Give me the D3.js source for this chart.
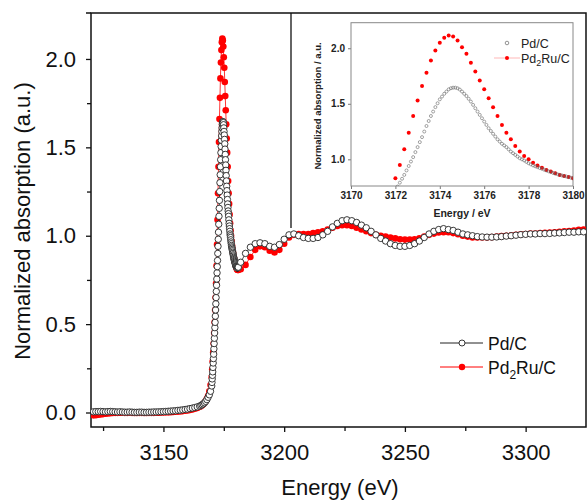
<!DOCTYPE html>
<html><head><meta charset="utf-8">
<script src="https://cdn.jsdelivr.net/npm/d3@7"></script>
<style>
html,body{margin:0;padding:0;background:#fff;}
svg{display:block;font-family:"Liberation Sans",Arial,Helvetica,sans-serif;}
</style></head>
<body><svg id="c" width="587" height="500"></svg>
<script>
// ---- data ----
const preEdgeEnergy = [
 3121,3122,3123,3124,3125,3126,3127,3128,3129,3130,
 3131,3132,3133,3134,3135,3136,3137,3138,3139,3140,
 3141,3142,3143,3144,3145,3146,3147,3148,3149,3150,
 3151,3152,3153,3154,3155,3156,3157,3158,3159,3160,
 3161,3162,3163,3164,3165,
 3165.5,3166,3166.5,3167,3167.5,3168,3168.5,3169,3169.5
];
// Pd/C measured with 0.1 eV steps across the white line
const edgeEnergyPdC = [
 3170.0,3170.1,3170.2,3170.3,3170.4,3170.5,3170.6,3170.7,3170.8,3170.9,
 3171.0,3171.1,3171.2,3171.3,3171.4,3171.5,3171.6,3171.7,3171.8,3171.9,
 3172.0,3172.1,3172.2,3172.3,3172.4,3172.5,3172.6,3172.7,3172.8,3172.9,
 3173.0,3173.1,3173.2,3173.3,3173.4,3173.5,3173.6,3173.7,3173.8,3173.9,
 3174.0,3174.1,3174.2,3174.3,3174.4,3174.5,3174.6,3174.7,3174.8,3174.9,
 3175.0,3175.1,3175.2,3175.3,3175.4,3175.5,3175.6,3175.7,3175.8,3175.9,
 3176.0,3176.1,3176.2,3176.3,3176.4,3176.5,3176.6,3176.7,3176.8,3176.9,
 3177.0,3177.1,3177.2,3177.3,3177.4,3177.5,3177.6,3177.7,3177.8,3177.9,
 3178.0,3178.1,3178.2,3178.3,3178.4,3178.5,3178.6,3178.7,3178.8,3178.9,
 3179.0,3179.1,3179.2,3179.3,3179.4,3179.5,3179.6,3179.7,3179.8,3179.9,
 3180.0,3180.1,3180.2,3180.3,3180.4,3180.5,3180.6,3180.7,3180.8,3180.9,
 3181.0
];
// Pd2Ru/C measured with 0.2 eV steps across the white line
const edgeEnergyPd2RuC = [
 3170.0,3170.2,3170.4,3170.6,3170.8,
 3171.0,3171.2,3171.4,3171.6,3171.8,
 3172.0,3172.2,3172.4,3172.6,3172.8,
 3173.0,3173.2,3173.4,3173.6,3173.8,
 3174.0,3174.2,3174.4,3174.6,3174.8,
 3175.0,3175.2,3175.4,3175.6,3175.8,
 3176.0,3176.2,3176.4,3176.6,3176.8,
 3177.0,3177.2,3177.4,3177.6,3177.8,
 3178.0,3178.2,3178.4,3178.6,3178.8,
 3179.0,3179.2,3179.4,3179.6,3179.8,
 3180.0,3180.2,3180.4,3180.6,3180.8,
 3181.0
];
const postEdgeEnergy = [
 3182,3184,3186,3188,3190,3192,3194,3196,3198,3200,
 3202,3204,3206,3208,3210,3212,3214,3216,3218,3220,
 3222,3224,3226,3228,3230,3232,3234,3236,3238,3240,
 3242,3244,3246,3248,3250,3252,3254,3256,3258,3260,
 3262,3264,3266,3268,3270,3272,3274,3276,3278,3280,
 3282,3284,3286,3288,3290,3292,3294,3296,3298,3300,
 3302,3304,3306,3308,3310,3312,3314,3316,3318,3320,
 3322,3324
];
const pdC = [
 0.004,0.005,0.005,0.006,0.005,0.004,0.005,0.006,0.005,0.004,
 0.003,0.004,0.003,0.002,0.002,0.003,0.002,0.001,0.001,0.002,
 0.002,0.001,0.001,0.002,0.002,0.003,0.003,0.004,0.004,0.005,
 0.006,0.007,0.008,0.009,0.010,0.012,0.013,0.015,0.017,0.019,
 0.022,0.025,0.028,0.032,0.036,
 0.040,0.044,0.049,0.055,0.063,0.073,0.086,0.10,0.12,
 0.15,0.17,0.19,0.21,0.23,0.255,0.28,0.305,0.33,0.36,
 0.39,0.42,0.45,0.48,0.51,0.545,0.58,0.615,0.65,0.685,
 0.72,0.755,0.79,0.825,0.86,0.90,0.94,0.98,1.02,1.065,
 1.11,1.155,1.20,1.25,1.30,1.345,1.39,1.43,1.47,1.505,
 1.54,1.565,1.59,1.61,1.63,1.64,1.645,1.645,1.64,1.628,
 1.61,1.59,1.57,1.545,1.52,1.49,1.46,1.43,1.40,1.37,
 1.34,1.31,1.28,1.255,1.23,1.205,1.18,1.16,1.14,1.125,
 1.11,1.09,1.07,1.055,1.04,1.025,1.01,1.0,0.99,0.977,
 0.965,0.955,0.945,0.937,0.93,0.922,0.915,0.907,0.90,0.892,
 0.885,0.878,0.872,0.866,0.86,0.855,0.85,0.845,0.84,0.835,
 0.83,0.827,0.824,0.822,0.82,0.819,0.818,0.818,0.819,0.82,
 0.822,
 0.85,0.90,0.935,0.955,0.96,0.955,0.94,0.935,0.95,0.98,
 1.005,1.01,1.0,0.99,0.985,0.985,0.99,1.005,1.025,1.05,
 1.07,1.085,1.09,1.085,1.075,1.06,1.045,1.025,1.005,0.985,
 0.97,0.955,0.945,0.94,0.94,0.945,0.955,0.97,0.99,1.01,
 1.025,1.035,1.04,1.035,1.03,1.02,1.01,1.005,1.0,0.995,
 0.993,0.992,0.992,0.993,0.995,0.998,1.0,1.003,1.006,1.008,
 1.01,1.01,1.012,1.012,1.013,1.015,1.016,1.018,1.02,1.02,
 1.022,1.022
];
const pd2RuC = [
 -0.016,-0.015,-0.013,-0.011,-0.009,-0.007,-0.005,-0.004,-0.003,-0.002,
 -0.002,-0.001,-0.001,-0.002,-0.002,-0.001,-0.002,-0.003,-0.003,-0.002,
 -0.002,-0.003,-0.003,-0.002,-0.002,-0.002,-0.001,-0.001,0.0,0.0,
 0.001,0.001,0.002,0.003,0.004,0.005,0.006,0.008,0.010,0.012,
 0.014,0.017,0.021,0.026,0.032,
 0.036,0.041,0.047,0.055,0.065,0.078,0.095,0.12,0.155,
 0.20,0.245,0.29,0.34,0.39,
 0.45,0.51,0.58,0.65,0.73,
 0.83,0.95,1.09,1.24,1.39,
 1.53,1.66,1.78,1.89,1.98,
 2.05,2.095,2.115,2.105,2.07,
 2.01,1.95,1.87,1.79,1.71,
 1.63,1.55,1.47,1.39,1.31,
 1.24,1.18,1.12,1.07,1.03,
 1.0,0.97,0.945,0.925,0.905,
 0.89,0.875,0.86,0.85,0.84,
 0.83,0.82,0.812,0.808,0.806,
 0.806,
 0.81,0.835,0.88,0.92,0.94,0.935,0.915,0.905,0.92,0.955,
 0.99,1.005,1.01,1.01,1.01,1.015,1.02,1.025,1.035,1.045,
 1.055,1.06,1.06,1.055,1.045,1.035,1.025,1.015,1.005,1.0,
 0.995,0.99,0.985,0.98,0.978,0.978,0.98,0.985,0.995,1.005,
 1.012,1.018,1.02,1.02,1.015,1.008,1.0,0.995,0.99,0.99,
 0.99,0.99,0.992,0.995,0.998,1.0,1.002,1.005,1.008,1.01,
 1.012,1.013,1.015,1.016,1.018,1.02,1.022,1.025,1.027,1.03,
 1.033,1.035
];
const xMajorTicks = [3150,3200,3250,3300];
const xMinorTicks = [3125,3175,3225,3275];
const yMajorTicks = [0.0,0.5,1.0,1.5,2.0];
const yMinorTicks = [0.25,0.75,1.25,1.75];
const insetXTicks = [3170,3172,3174,3176,3178,3180];
const insetYTicks = [1.0,1.5,2.0];
const seriesNames = ["Pd/C","Pd2Ru/C"];

// ---- build ----
const svg = d3.select("#c");
const energyPdC = preEdgeEnergy.concat(edgeEnergyPdC, postEdgeEnergy);
const energyPd2RuC = preEdgeEnergy.concat(edgeEnergyPd2RuC, postEdgeEnergy);
const ptsBlack = energyPdC.map((e,i)=>({e, v: pdC[i]}));
const ptsRed = energyPd2RuC.map((e,i)=>({e, v: pd2RuC[i]}));

const L=91,R=586,T=13,B=427;
const x = d3.scaleLinear().domain([3120,3325]).range([L,R]);
const y = d3.scaleLinear().domain([-0.082,2.26]).range([B,T]);

const defs = svg.append("defs");
defs.append("clipPath").attr("id","mainclip").append("rect")
  .attr("x",L).attr("y",T).attr("width",R-L).attr("height",B-T);

const IL=351, IR=573, IT=22.7, IB=186;
const ix = d3.scaleLinear().domain([3170,3180]).range([IL,IR]);
const iy = d3.scaleLinear().domain([0.76,2.23]).range([IB,IT]);
defs.append("clipPath").attr("id","insetclip").append("rect")
  .attr("x",IL).attr("y",IT).attr("width",IR-IL).attr("height",IB-IT);

// inset panel (behind main data)
const inset = svg.append("g");
inset.append("rect").attr("x",291).attr("y",T).attr("width",R-291).attr("height",205).attr("fill","#fff");
inset.append("line").attr("x1",291).attr("x2",291).attr("y1",T).attr("y2",228)
  .attr("stroke","#111").attr("stroke-width",1.3);

// main axes
const fontMain = "22px";
const gx = svg.append("g").attr("transform",`translate(0,${B})`)
  .call(d3.axisBottom(x).tickValues(xMajorTicks).tickSize(5).tickPadding(12.5).tickFormat(d3.format("d")));
gx.select(".domain").remove();
gx.selectAll("text").attr("font-size",fontMain).attr("fill","#111").attr("font-family","Liberation Sans, Arial, sans-serif");
gx.selectAll("line").attr("stroke","#111").attr("stroke-width",1.3);
const gx2 = svg.append("g").attr("transform",`translate(0,${B})`)
  .call(d3.axisBottom(x).tickValues(xMinorTicks).tickSize(4).tickFormat(""));
gx2.select(".domain").remove();
gx2.selectAll("line").attr("stroke","#111").attr("stroke-width",1.3);

const gy = svg.append("g").attr("transform",`translate(${L},0)`)
  .call(d3.axisLeft(y).tickValues(yMajorTicks).tickSize(5).tickPadding(10).tickFormat(d3.format(".1f")));
gy.select(".domain").remove();
gy.selectAll("text").attr("font-size",fontMain).attr("fill","#111").attr("font-family","Liberation Sans, Arial, sans-serif");
gy.selectAll("line").attr("stroke","#111").attr("stroke-width",1.3);
const gy2 = svg.append("g").attr("transform",`translate(${L},0)`)
  .call(d3.axisLeft(y).tickValues(yMinorTicks).tickSize(4).tickFormat(""));
gy2.select(".domain").remove();
gy2.selectAll("line").attr("stroke","#111").attr("stroke-width",1.3);

// frame
svg.append("path").attr("d",`M${L},${T}H${R}V${B}H${L}Z`).attr("fill","none")
  .attr("stroke","#111").attr("stroke-width",1.5);
svg.append("line").attr("x1",86).attr("x2",L).attr("y1",T).attr("y2",T).attr("stroke","#111").attr("stroke-width",1.5);

// axis titles
svg.append("text").attr("x",340).attr("y",495).attr("text-anchor","middle")
  .attr("font-size","22px").attr("fill","#111").text("Energy (eV)");
svg.append("text").attr("transform","translate(30,221) rotate(-90)").attr("text-anchor","middle")
  .attr("font-size","22px").attr("fill","#111").text("Normalized absorption (a.u.)");

// main data
const line = d3.line().x(d=>x(d.e)).y(d=>y(d.v));
const gm = svg.append("g").attr("clip-path","url(#mainclip)");
gm.append("path").datum(ptsRed).attr("d",line).attr("fill","none").attr("stroke","#f00").attr("stroke-width",0.8);
gm.append("g").selectAll("circle").data(ptsRed).join("circle")
  .attr("cx",d=>x(d.e)).attr("cy",d=>y(d.v)).attr("r",3.3).attr("fill","#f00");
gm.append("path").datum(ptsBlack).attr("d",line).attr("fill","none").attr("stroke","#222").attr("stroke-width",0.8);
gm.append("g").selectAll("circle").data(ptsBlack).join("circle")
  .attr("cx",d=>x(d.e)).attr("cy",d=>y(d.v)).attr("r",3.2)
  .attr("fill","#fff").attr("stroke","#222").attr("stroke-width",0.9);

// main legend
const lg = svg.append("g");
[[343,"black"],[367,"red"]].forEach(([ly,k])=>{
  lg.append("line").attr("x1",440).attr("x2",483).attr("y1",ly).attr("y2",ly)
    .attr("stroke",k==="black"?"#222":"#f00").attr("stroke-width",1);
  if(k==="black") lg.append("circle").attr("cx",462).attr("cy",ly).attr("r",3).attr("fill","#fff").attr("stroke","#222").attr("stroke-width",0.9);
  else lg.append("circle").attr("cx",462).attr("cy",ly).attr("r",3.2).attr("fill","#f00");
});
lg.append("text").attr("x",488).attr("y",349.5).attr("font-size","17.5px").attr("fill","#111").text(seriesNames[0]);
const t2 = lg.append("text").attr("x",488).attr("y",373.5).attr("font-size","17.5px").attr("fill","#111");
t2.append("tspan").text("Pd");
t2.append("tspan").attr("font-size","12px").attr("dy",5).text("2");
t2.append("tspan").attr("dy",-5).text("Ru/C");

// ---- inset axes ----
const ig = svg.append("g");
const igx = ig.append("g").attr("transform",`translate(0,${IB})`)
  .call(d3.axisBottom(ix).tickValues(insetXTicks).tickSize(3).tickPadding(2.5).tickFormat(d3.format("d")));
igx.select(".domain").remove();
igx.selectAll("text").attr("font-size","10px").attr("font-weight","bold").attr("fill","#222").attr("font-family","Liberation Sans, Arial, sans-serif");
igx.selectAll("line").attr("stroke","#777");
const igy = ig.append("g").attr("transform",`translate(${IL},0)`)
  .call(d3.axisLeft(iy).tickValues(insetYTicks).tickSize(3).tickPadding(3).tickFormat(d3.format(".1f")));
igy.select(".domain").remove();
igy.selectAll("text").attr("font-size","10px").attr("font-weight","bold").attr("fill","#222").attr("font-family","Liberation Sans, Arial, sans-serif");
igy.selectAll("line").attr("stroke","#777");
ig.append("rect").attr("x",IL).attr("y",IT).attr("width",IR-IL).attr("height",IB-IT)
  .attr("fill","none").attr("stroke","#888").attr("stroke-width",1);
ig.append("text").attr("x",462).attr("y",216.5).attr("text-anchor","middle")
  .attr("font-size","10.5px").attr("font-weight","bold").attr("fill","#222").text("Energy / eV");
ig.append("text").attr("transform","translate(321,106) rotate(-90)").attr("text-anchor","middle")
  .attr("font-size","9.5px").attr("font-weight","bold").attr("fill","#222").text("Normalized absorption / a.u.");

// inset data
const inRange = d=> d.e>=3169.5 && d.e<=3181;
const gi = svg.append("g").attr("clip-path","url(#insetclip)");
gi.append("g").selectAll("circle").data(ptsRed.filter(inRange)).join("circle")
  .attr("cx",d=>ix(d.e)).attr("cy",d=>iy(d.v)).attr("r",2).attr("fill","#f00");
gi.append("g").selectAll("circle").data(ptsBlack.filter(inRange)).join("circle")
  .attr("cx",d=>ix(d.e)).attr("cy",d=>iy(d.v)).attr("r",1.5)
  .attr("fill","none").attr("stroke","#666").attr("stroke-width",0.6);

// inset legend
ig.append("circle").attr("cx",507).attr("cy",43).attr("r",1.8).attr("fill","none").attr("stroke","#666").attr("stroke-width",0.7);
ig.append("text").attr("x",521).attr("y",47.5).attr("font-size","12.5px").attr("fill","#222").text(seriesNames[0]);
ig.append("line").attr("x1",494).attr("x2",520).attr("y1",58).attr("y2",58).attr("stroke","#f88").attr("stroke-width",0.6);
ig.append("circle").attr("cx",507).attr("cy",58).attr("r",2).attr("fill","#f00");
const t3 = ig.append("text").attr("x",521).attr("y",62.5).attr("font-size","12.5px").attr("fill","#222");
t3.append("tspan").text("Pd");
t3.append("tspan").attr("font-size","9px").attr("dy",3.5).text("2");
t3.append("tspan").attr("dy",-3.5).text("Ru/C");
</script>
</body></html>
